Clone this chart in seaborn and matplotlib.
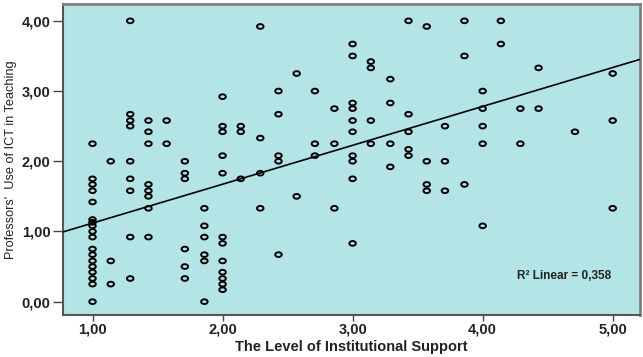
import numpy as np
import pandas as pd
import matplotlib
matplotlib.use("Agg")
import matplotlib.pyplot as plt
from matplotlib.path import Path
from matplotlib.ticker import FuncFormatter
import seaborn as sns

# ---- data (x = level of institutional support, y = use of ICT) ----
x_values = (
    [1.00] * 18 + [1.14] * 3 + [1.29] * 9 + [1.43] * 8 + [1.57] * 2 + [1.71] * 6 +
    [1.86] * 6 + [2.00] * 12 + [2.14] * 3 + [2.29] * 4 + [2.43] * 5 + [2.57] * 2 +
    [2.71] * 3 + [2.86] * 3 + [3.00] * 10 + [3.14] * 4 + [3.29] * 4 + [3.43] * 5 +
    [3.57] * 4 + [3.71] * 3 + [3.86] * 3 + [4.00] * 5 + [4.14] * 2 + [4.29] * 2 +
    [4.43] * 2 + [4.71] * 1 + [5.00] * 3
)
y_values = [
    # 1.00
    2.25, 1.75, 1.67, 1.58, 1.42, 1.17, 1.13, 1.08, 1.00, 0.92, 0.75, 0.67, 0.58, 0.50, 0.42, 0.33, 0.25, 0.00,
    # 1.14
    2.00, 0.58, 0.25,
    # 1.29
    4.00, 2.67, 2.58, 2.50, 2.00, 1.75, 1.58, 0.92, 0.33,
    # 1.43
    2.58, 2.42, 2.25, 1.67, 1.58, 1.50, 1.33, 0.92,
    # 1.57
    2.58, 2.25,
    # 1.71
    2.00, 1.83, 1.75, 0.75, 0.50, 0.33,
    # 1.86
    1.33, 1.08, 0.92, 0.67, 0.58, 0.00,
    # 2.00
    2.92, 2.50, 2.42, 2.08, 1.83, 0.92, 0.83, 0.58, 0.42, 0.33, 0.25, 0.17,
    # 2.14
    2.50, 2.42, 1.75,
    # 2.29
    3.92, 2.33, 1.83, 1.33,
    # 2.43
    3.00, 2.67, 2.08, 2.00, 0.67,
    # 2.57
    3.25, 1.50,
    # 2.71
    3.00, 2.25, 2.08,
    # 2.86
    2.75, 2.25, 1.33,
    # 3.00
    3.67, 3.50, 2.83, 2.75, 2.58, 2.42, 2.08, 2.00, 1.75, 0.83,
    # 3.14
    3.42, 3.33, 2.58, 2.25,
    # 3.29
    3.17, 2.83, 2.25, 1.92,
    # 3.43
    4.00, 2.67, 2.42, 2.17, 2.08,
    # 3.57
    3.92, 2.00, 1.67, 1.58,
    # 3.71
    2.50, 2.00, 1.58,
    # 3.86
    4.00, 3.50, 1.67,
    # 4.00
    3.00, 2.75, 2.50, 2.25, 1.08,
    # 4.14
    4.00, 3.67,
    # 4.29
    2.75, 2.25,
    # 4.43
    3.33, 2.75,
    # 4.71
    2.42,
    # 5.00
    3.25, 2.58, 1.33,
]
# fit line as shown in the reference
fit_intercept = 0.565
fit_slope = 0.554

x_ticks = [1, 2, 3, 4, 5]
y_ticks = [0, 1, 2, 3, 4]
x_label = "The Level of Institutional Support"
y_label = "Professors'  Use of ICT in Teaching"
r2_text = "R² Linear = 0,358"

df = pd.DataFrame({"support": x_values, "ict": y_values})

sns.set_style("white")
plt.rcParams["font.family"] = ["Liberation Sans", "DejaVu Sans"]

fig = plt.figure(figsize=(6.43, 3.57), dpi=100)
ax = fig.add_axes([63 / 643, 1 - 315 / 357, (640 - 63) / 643, (315 - 4) / 357])
ax.set_facecolor("#b3e5e7")
ax.set_xlim(0.773, 5.21)
ax.set_ylim(-0.19, 4.24)

# elliptical open marker
circ = Path.unit_circle()
ell = Path(circ.vertices * np.array([1.0, 0.72]), circ.codes)

sns.scatterplot(data=df, x="support", y="ict", ax=ax, marker=ell, s=22,
                facecolors="none", edgecolor="black", linewidth=1.4, zorder=3)
ax.axline((0, fit_intercept), slope=fit_slope, color="black", linewidth=1.2, zorder=4)
ax.set_xlim(0.773, 5.21)
ax.set_ylim(-0.19, 4.24)

fmt = FuncFormatter(lambda v, p: f"{v:.2f}".replace(".", ","))
ax.set_xticks(x_ticks)
ax.set_yticks(y_ticks)
ax.xaxis.set_major_formatter(fmt)
ax.yaxis.set_major_formatter(fmt)
ax.tick_params(axis="both", which="major", direction="out", width=1,
               color="#444444", labelsize=10.5, labelcolor="#222222",
               bottom=True, left=True)
ax.tick_params(axis="y", length=7, pad=2)
ax.tick_params(axis="x", length=4.5, pad=1)
for lab in ax.get_xticklabels() + ax.get_yticklabels():
    lab.set_fontweight("bold")

ax.set_xlabel(x_label, fontsize=10.5, fontweight="bold", color="#222222", labelpad=2.5)
ax.set_ylabel(y_label, fontsize=9.2, color="#222222", labelpad=3.5)

for side in ["left", "bottom"]:
    ax.spines[side].set_color("#555555")
    ax.spines[side].set_linewidth(1.5)
for side in ["top", "right"]:
    ax.spines[side].set_color("#808080")
    ax.spines[side].set_linewidth(2)

ax.text(4.99, 0.37, r2_text, ha="right", va="center", fontsize=8.5,
        fontweight="bold", color="#222222")

fig.savefig("out.png", dpi=100)
